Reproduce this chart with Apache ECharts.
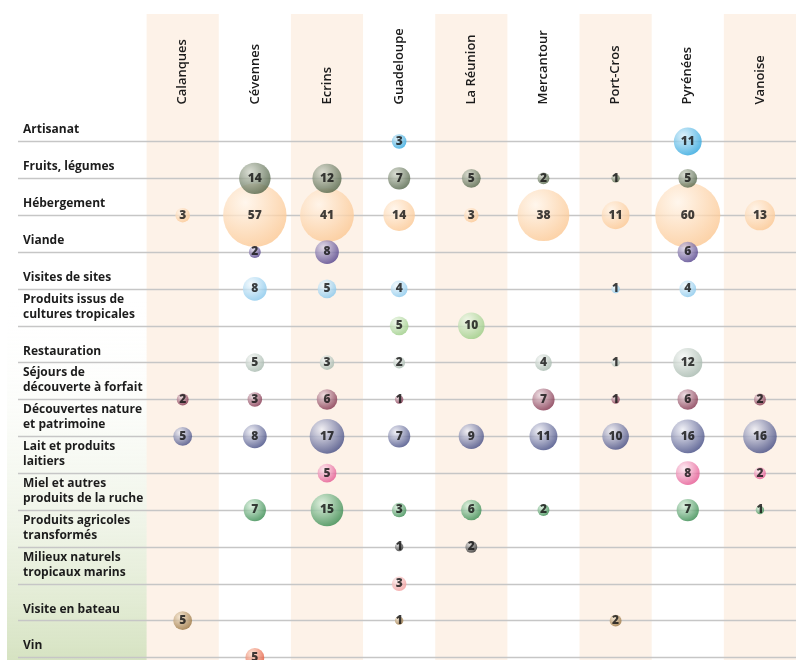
<!DOCTYPE html>
<html>
<head>
<meta charset="utf-8">
<title>Activités par parc</title>
<script src="https://cdn.jsdelivr.net/npm/echarts@6/dist/echarts.min.js"></script>
<style>
  html, body { margin: 0; padding: 0; background: #fff; }
  #chart { width: 796px; height: 660px; }
</style>
</head>
<body>
<div id="chart"></div>
<script>
// parcs (colonnes)
var parcs = ['Calanques', 'Cévennes', 'Ecrins', 'Guadeloupe', 'La Réunion', 'Mercantour', 'Port-Cros', 'Pyrénées', 'Vanoise']

// activités (lignes)
var activites = [
  'Artisanat',
  'Fruits, légumes',
  'Hébergement',
  'Viande',
  'Visites de sites',
  'Produits issus de\ncultures tropicales',
  'Restauration',
  'Séjours de\ndécouverte à forfait',
  'Découvertes nature\net patrimoine',
  'Lait et produits\nlaitiers',
  'Miel et autres\nproduits de la ruche',
  'Produits agricoles\ntransformés',
  'Milieux naturels\ntropicaux marins',
  'Visite en bateau',
  'Vin'
]

// valeurs par ligne, dans l'ordre des parcs
var artisanat    = [null, null, null, 3, null, null, null, 11, null]
var fruits       = [null, 14, 12, 7, 5, 2, 1, 5, null]
var hebergement  = [3, 57, 41, 14, 3, 38, 11, 60, 13]
var viande       = [null, 2, 8, null, null, null, null, 6, null]
var visites      = [null, 8, 5, 4, null, null, 1, 4, null]
var tropicales   = [null, null, null, 5, 10, null, null, null, null]
var restauration = [null, 5, 3, 2, null, 4, 1, 12, null]
var sejours      = [2, 3, 6, 1, null, 7, 1, 6, 2]
var decouvertes  = [5, 8, 17, 7, 9, 11, 10, 16, 16]
var lait         = [null, null, 5, null, null, null, null, 8, 2]
var miel         = [null, 7, 15, 3, 6, 2, null, 7, 1]
var agricoles    = [null, null, null, 1, 2, null, null, null, null]
var milieux      = [null, null, null, 3, null, null, null, null, null]
var bateau       = [5, null, null, 1, null, null, 2, null, null]
var vin          = [null, 5, null, null, null, null, null, null, null]

var lignes = [artisanat, fruits, hebergement, viande, visites, tropicales, restauration,
  sejours, decouvertes, lait, miel, agricoles, milieux, bateau, vin]

// couleurs [reflet, fond] par ligne
var couleurs = [
  ['#d6eefa', '#1c9edb'],
  ['#d2d6ca', '#465a3c'],
  ['#fff4e8', '#fbc48c'],
  ['#dcd4e6', '#443282'],
  ['#f2f9fd', '#7cc2ea'],
  ['#eef7e8', '#92c87a'],
  ['#f5f7f5', '#9eb2a6'],
  ['#ead6dc', '#76203c'],
  ['#eeeef5', '#323b78'],
  ['#fde8f0', '#e24686'],
  ['#d8f0dc', '#268040'],
  ['#d4d4d4', '#1c1c1c'],
  ['#fdeaea', '#f09494'],
  ['#f4e4cc', '#906830'],
  ['#fde0d0', '#e24a2a']
]

var points = []
lignes.forEach(function(vals, r) {
  vals.forEach(function(v, c) {
    if (v == null) return
    points.push({
      value: [c, r, v],
      itemStyle: {
        color: new echarts.graphic.RadialGradient(0.35, 0.3, 0.8, [
          { offset: 0, color: couleurs[r][0] },
          { offset: 1, color: couleurs[r][1] }
        ])
      }
    })
  })
})
// grosses bulles dessous
points.sort(function(a, b) { return b.value[2] - a.value[2] })

var chart = echarts.init(document.getElementById('chart'))

var police = "'Open Sans', sans-serif"

chart.setOption({
  animation: false,
  graphic: [{
    type: 'rect',
    z: -10,
    shape: { x: 7, y: 300, width: 140, height: 360 },
    style: {
      fill: new echarts.graphic.LinearGradient(0, 0, 0, 1, [
        { offset: 0, color: 'rgba(255,255,255,0)' },
        { offset: 1, color: '#d6e3c2' }
      ])
    }
  }],
  grid: [
    { left: 146.6, width: 659, top: 14, bottom: 0 },
    { left: 146.6, width: 659, top: 141.5, height: 516 },
    { left: 18, right: 0, top: 141.5, height: 516 }
  ],
  xAxis: [
    {
      gridIndex: 0,
      type: 'category',
      data: parcs,
      axisLine: { show: false },
      axisTick: { show: false },
      axisLabel: { show: false },
      splitArea: { show: true, interval: 0, areaStyle: { color: ['#fdf2e8', 'rgba(255,255,255,0)'] } }
    },
    {
      gridIndex: 1,
      type: 'category',
      data: parcs,
      position: 'top',
      axisLine: { show: false },
      axisTick: { show: false },
      axisLabel: {
        interval: 0,
        rotate: -90,
        margin: 37,
        fontFamily: police,
        fontWeight: 600,
        fontSize: 13,
        color: '#1a1a1a'
      }
    },
    { gridIndex: 2, type: 'value', show: false }
  ],
  yAxis: [
    { gridIndex: 0, type: 'value', show: false },
    {
      gridIndex: 1,
      type: 'category',
      data: activites,
      inverse: true,
      boundaryGap: false,
      show: false
    },
    {
      gridIndex: 2,
      type: 'category',
      data: activites,
      inverse: true,
      boundaryGap: false,
      z: 1,
      axisLine: { show: false },
      axisTick: { show: false },
      splitLine: { show: true, interval: 0, lineStyle: { color: '#c6c6c6', width: 1.3 } },
      axisLabel: {
        interval: 0,
        inside: true,
        margin: 5,
        verticalAlign: 'bottom',
        lineHeight: 15,
        padding: [0, 0, 4, 0],
        fontFamily: police,
        fontWeight: 'bold',
        fontSize: 12,
        color: '#1c1c1c'
      }
    }
  ],
  series: [{
    type: 'scatter',
    xAxisIndex: 1,
    yAxisIndex: 1,
    z: 3,
    data: points,
    symbolSize: function(val) { return 8.4 * Math.sqrt(val[2]) },
    label: {
      show: true,
      position: 'inside',
      formatter: function(p) { return p.value[2] },
      fontFamily: police,
      fontWeight: 800,
      fontSize: 12,
      color: '#111'
    }
  }]
})
</script>
</body>
</html>
